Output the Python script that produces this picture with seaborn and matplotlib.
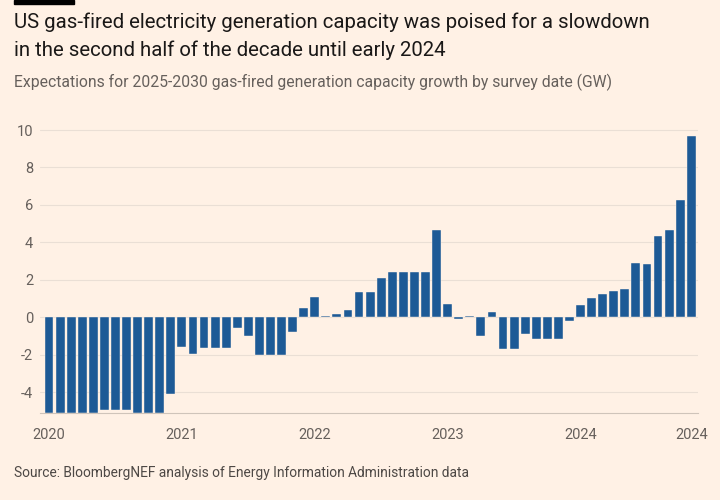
import numpy as np
import pandas as pd
import seaborn as sns
import matplotlib.pyplot as plt

# monthly survey dates, Jan 2020 .. Nov 2024
months = pd.date_range('2020-01-01', periods=59, freq='MS').strftime('%Y-%m').tolist()
growth_gw = [
    -5.1, -5.1, -5.1, -5.1, -5.1, -4.95, -4.95, -4.95, -5.1, -5.1, -5.1, -4.1,
    -1.6, -1.95, -1.65, -1.62, -1.62, -0.6, -0.98, -2.03, -2.03, -2.03, -0.77, 0.48,
    1.1, 0.08, 0.16, 0.41, 1.33, 1.33, 2.08, 2.4, 2.4, 2.4, 2.4, 4.68,
    0.69, -0.08, 0.08, -0.98, 0.27, -1.69, -1.69, -0.89, -1.14, -1.14, -1.14, -0.21,
    0.66, 1.03, 1.26, 1.4, 1.51, 2.9, 2.83, 4.36, 4.66, 6.28, 9.7,
]
tick_pos = [0, 12, 24, 36, 48, 58]
tick_labels = ['2020', '2021', '2022', '2023', '2024', '2024']
y_ticks = [-4, -2, 0, 2, 4, 6, 8, 10]

bg = '#fff1e5'
bar_col = '#1d5a96'
grey = '#66605c'

sns.set_style('white')
plt.rcParams['font.family'] = ['Roboto', 'DejaVu Sans']

df = pd.DataFrame({'month': months, 'gw': growth_gw})

fig = plt.figure(figsize=(7.2, 5), dpi=100, facecolor=bg)
ax = fig.add_axes([0.0556, 0.1746, 0.9134, 0.5728])
ax.set_facecolor(bg)

sns.barplot(data=df, x='month', y='gw', color=bar_col, saturation=1, width=0.8,
            edgecolor=bg, linewidth=0.3, ax=ax, zorder=3)

ax.set_ylim(-5.1, 10.2)
ax.set_xlim(-0.81, 58.58)
ax.set_yticks(y_ticks)
ax.set_yticklabels([str(v) for v in y_ticks], color=grey, fontsize=10.5)
ax.yaxis.grid(True, color='#eadfd5', linewidth=0.8, zorder=0)
ax.tick_params(axis='y', length=0, pad=5)

ax.set_xticks(tick_pos)
ax.set_xticklabels(tick_labels, color=grey, fontsize=10.5)
ax.set_xticks(range(len(months)), minor=True)
ax.tick_params(axis='x', which='major', length=8, color='#cfc4ba', pad=3)
ax.tick_params(axis='x', which='minor', length=5, color='#cfc4ba')
ax.set_xlabel('')
ax.set_ylabel('')

for s in ['top', 'right', 'left']:
    ax.spines[s].set_visible(False)
ax.spines['bottom'].set_color('#cfc4ba')
ax.spines['bottom'].set_zorder(4)

# header
fig.patches.append(plt.Rectangle((14 / 720, 1 - 4 / 500), 60 / 720, 4 / 500,
                                 transform=fig.transFigure, color='black'))
fig.text(14 / 720, 1 - 22 / 500, 'US gas-fired electricity generation capacity was poised for a slowdown',
         fontsize=14.7, color='#1a1817', va='center')
fig.text(14 / 720, 1 - 50 / 500, 'in the second half of the decade until early 2024',
         fontsize=14.7, color='#1a1817', va='center')
fig.text(14 / 720, 1 - 82 / 500, 'Expectations for 2025-2030 gas-fired generation capacity growth by survey date (GW)',
         fontsize=11.3, color=grey, va='center')
fig.text(14 / 720, 1 - 473 / 500, 'Source: BloombergNEF analysis of Energy Information Administration data',
         fontsize=9.9, color='#4d4845', va='center')

fig.savefig('out.png', dpi=100, facecolor=bg)
